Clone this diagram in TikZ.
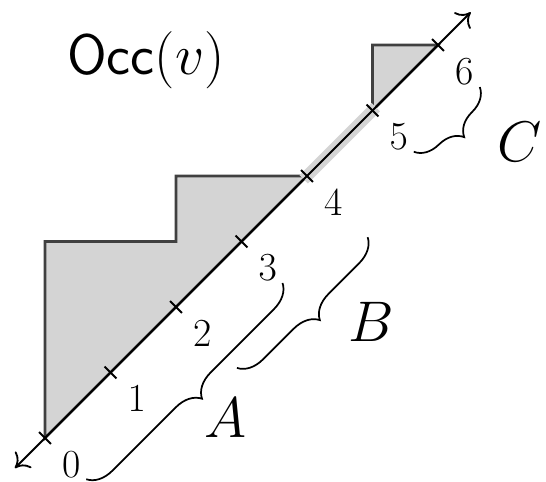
\documentclass[tikz,border=0pt]{standalone}
\usetikzlibrary{decorations.pathreplacing,arrows.meta,calc}
\begin{document}
\begin{tikzpicture}[x=1cm,y=1cm,
  axisline/.style={line width=0.8pt,{To[length=5.5pt,width=10pt]}-{To[length=5.5pt,width=10pt]}},
  region/.style={fill=black!17,draw=black!75,line width=1.2pt,line join=miter},
  band/.style={draw=black!17,line width=5.2pt},
  tickmark/.style={line width=0.8pt},
  numlabel/.style={font=\fontsize{18}{20}\selectfont,inner sep=0pt},
  biglabel/.style={font=\fontsize{26}{30}\selectfont,inner sep=0pt},
  bracestyle/.style={decorate,decoration={brace,mirror,amplitude=0.38cm},line width=0.75pt}]
\useasboundingbox (-0.687,-0.672) rectangle (7.649,6.687);
% tick coordinates
\foreach \k in {0,...,6}{\coordinate (t\k) at (\k,\k);}
\coordinate (lo) at (-0.46,-0.46);
\coordinate (hi) at (6.5,6.5);
% shaded regions
\path[region] (t0) -- (0,3) -- (2,3) -- (2,4) -- (t4) -- cycle;
\path[region] (t5) -- (5,6) -- (t6) -- cycle;
% light band between 4 and 5
\draw[band] ($(t4)+(-0.05,-0.05)$) -- ($(t5)+(0.05,0.05)$);
% axis
\draw[axisline] (lo) -- (hi);
% ticks and labels
\foreach \k in {0,...,6}{
  \draw[tickmark] ($(t\k)+(-0.09,0.09)$) -- ($(t\k)+(0.09,-0.09)$);
  \node[numlabel] (n\k) at ($(t\k)+(0.4,-0.4)$) {$\k$};
}
% braces
\coordinate (a1) at (0.63,-0.63); \coordinate (a2) at (3.63,2.37);
\coordinate (b1) at (2.93,1.07); \coordinate (b2) at (4.93,3.07);
\coordinate (c1) at (5.63,4.37); \coordinate (c2) at (6.64,5.36);
\draw[bracestyle] (a1) -- (a2);
\draw[bracestyle] (b1) -- (b2);
\draw[bracestyle] (c1) -- (c2);
\node[biglabel] (A) at (2.76,0.31) {$A$};
\node[biglabel] (B) at (4.98,1.77) {$B$};
\node[biglabel] (C) at (7.24,4.52) {$C$};
\node[biglabel] (occ) at (1.54,5.77) {$\mathsf{Occ}(v)$};
\end{tikzpicture}
\end{document}
